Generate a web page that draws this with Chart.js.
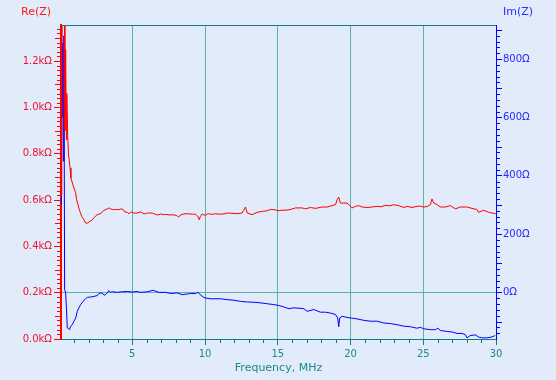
<!DOCTYPE html>
<html><head><meta charset="utf-8">
<script src="https://cdn.jsdelivr.net/npm/chart.js@4/dist/chart.umd.min.js"></script>
<style>html,body{margin:0;padding:0;background:#e1ebfa;}canvas{display:block;}</style>
</head><body>
<canvas id="c" width="556" height="380"></canvas>
<script>
// ---- data ----
const reFreq = [0.10,0.14,0.18,0.33,0.37,0.42,0.47,0.50,0.56,0.62,0.65,0.72,0.78,0.88,0.99,1.11,1.17,1.27,1.38,1.52,1.68,1.79,1.90,2.02,2.20,2.36,2.52,2.71,2.83,2.94,3.05,3.17,3.28,3.39,3.51,3.63,3.85,4.08,4.20,4.38,4.47,4.66,4.77,4.93,5.11,5.34,5.57,5.80,5.91,6.03,6.26,6.37,6.48,6.72,6.83,6.94,7.17,7.29,7.52,7.86,8.04,8.20,8.32,8.54,8.78,9.12,9.35,9.53,9.60,9.69,9.81,10.03,10.15,10.26,10.50,10.72,10.95,11.29,11.52,11.85,12.21,12.55,12.66,12.78,12.90,13.24,13.58,13.93,14.27,14.50,14.73,15.00,15.30,15.70,16.00,16.22,16.68,16.90,17.25,17.59,18.05,18.39,18.74,18.97,19.08,19.19,19.31,19.53,19.76,20.00,20.11,20.34,20.57,20.80,21.14,21.48,21.83,22.10,22.40,22.70,22.97,23.31,23.66,23.89,24.23,24.58,24.80,25.03,25.26,25.49,25.60,25.72,25.95,26.18,26.52,26.86,27.20,27.55,28.00,28.35,28.69,28.80,29.15,29.50,29.98];
const reVals = [1450,620,1450,1450,900,1250,860,1060,880,790,782,739,695,674,652,631,602,580,554,530,515,501,500,505,512,523,534,540,541,549,556,559,562,566,562,559,559,559,562,559,549,547,541,549,544,544,549,541,541,544,544,544,541,536,536,540,537,538,536,536,533,527,536,540,541,539,539,527,515,530,540,533,540,541,538,541,539,540,544,543,541,544,556,570,544,537,547,551,554,559,559,554,556,557,562,566,566,562,568,564,570,570,576,580,602,613,587,587,587,573,566,573,576,570,568,570,573,571,577,575,580,576,568,573,568,573,574,570,572,580,605,587,580,570,570,576,562,570,570,564,559,547,556,547,541];
const imFreq = [0.10,0.13,0.17,0.21,0.26,0.30,0.35,0.42,0.49,0.53,0.60,0.69,0.76,0.88,0.99,1.11,1.22,1.33,1.45,1.61,1.79,1.91,2.14,2.36,2.60,2.71,2.82,2.94,3.12,3.28,3.39,3.51,3.63,3.97,4.31,4.66,5.00,5.34,5.57,6.03,6.44,6.83,7.29,7.63,8.09,8.43,9.00,9.35,9.51,9.81,9.99,10.38,11.07,11.52,11.98,12.44,12.90,13.35,13.81,14.27,14.73,15.07,15.41,15.76,16.10,16.79,17.02,17.48,17.93,18.28,18.62,18.97,19.12,19.19,19.26,19.42,19.76,20.04,20.45,20.91,21.37,21.83,22.28,22.74,23.20,23.66,24.11,24.57,24.80,25.03,25.49,25.83,26.00,26.18,26.64,26.98,27.32,27.66,27.89,28.00,28.23,28.58,28.80,29.03,29.38,29.72,29.95];
const imVals = [300,910,600,855,450,880,9,-2,-71,-122,-124,-128,-116,-111,-99,-88,-65,-53,-42,-31,-22,-17,-16,-14,-11,-4,-2,-4,-10,-2,6,0,2,0,2,3,1,3,0,2,7,0,0,-4,-2,-8,-4,-4,0,-14,-19,-22,-22,-25,-27,-31,-33,-34,-36,-39,-42,-45,-50,-56,-53,-56,-65,-59,-68,-68,-71,-76,-88,-118,-88,-82,-86,-88,-91,-96,-99,-99,-105,-107,-111,-116,-118,-123,-120,-125,-128,-128,-123,-131,-134,-136,-141,-141,-145,-156,-148,-146,-153,-156,-156,-153,-148];
const xTickValues = [5,10,15,20,25,30];
const reTickValues = [0,200,400,600,800,1000,1200];
const imTickValues = [0,200,400,600,800];

// ---- styles ----
const BG = '#e1ebfa';
const TEAL = '#0f7f80';
const GRID = '#5eb0aa';
const RED = '#ff0000';
const BLUE = '#0000ff';
const FONT = 'DejaVu Sans';

const toPts = (xs, ys) => xs.map((x, i) => ({x, y: ys[i]}));

const decor = {
  id: 'decor',
  beforeDraw(chart) {
    const c = chart.ctx;
    c.save(); c.fillStyle = BG; c.fillRect(0, 0, chart.width, chart.height); c.restore();
  },
  afterDraw(chart) {
    const c = chart.ctx, a = chart.chartArea;
    const sx = chart.scales.x, sr = chart.scales.re, si = chart.scales.im;
    c.save();
    c.lineWidth = 1;
    c.strokeStyle = TEAL;
    c.beginPath(); c.moveTo(a.left, Math.round(a.top) + 0.5); c.lineTo(a.right, Math.round(a.top) + 0.5); c.stroke();
    c.beginPath();
    for (let v = 1; v < 30; v++) {
      if (v % 5 === 0) continue;
      const px = Math.round(sx.getPixelForValue(v)) + 0.5;
      c.moveTo(px, a.bottom); c.lineTo(px, a.bottom + 4);
    }
    c.stroke();
    c.strokeStyle = RED;
    c.beginPath();
    for (let v = 20; v <= sr.max; v += 20) {
      if (v % 200 === 0) continue;
      const py = Math.round(sr.getPixelForValue(v)) + 0.5;
      const len = v % 100 === 0 ? 6 : 4;
      c.moveTo(a.left - len, py); c.lineTo(a.left, py);
    }
    c.stroke();
    c.strokeStyle = BLUE;
    c.beginPath();
    for (let v = -140; v <= si.max; v += 20) {
      if (v % 200 === 0) continue;
      const py = Math.round(si.getPixelForValue(v)) + 0.5;
      const len = v % 100 === 0 ? 6 : 4;
      c.moveTo(a.right, py); c.lineTo(a.right + len, py);
    }
    c.stroke();
    c.font = '11px "' + FONT + '"';
    c.textBaseline = 'middle';
    c.textAlign = 'left';
    c.fillStyle = '#ff1a1a';
    c.fillText('Re(Z)', 21, 12);
    c.fillStyle = '#2a2aff';
    c.fillText('Im(Z)', 503, 12);
    c.restore();
  }
};

new Chart(document.getElementById('c'), {
  type: 'scatter',
  data: {
    datasets: [
      {label: 'Re(Z)', data: toPts(reFreq, reVals), yAxisID: 're', showLine: true, borderColor: RED, borderWidth: 1, pointRadius: 0, tension: 0},
      {label: 'Im(Z)', data: toPts(imFreq, imVals), yAxisID: 'im', showLine: true, borderColor: BLUE, borderWidth: 1, pointRadius: 0, tension: 0}
    ]
  },
  options: {
    responsive: false,
    animation: false,
    events: [],
    layout: {padding: {top: 25, left: 0, right: 0, bottom: 0}},
    plugins: {legend: {display: false}, tooltip: {enabled: false}},
    scales: {
      x: {
        type: 'linear', position: 'bottom', min: 0.1, max: 30,
        afterBuildTicks: s => { s.ticks = xTickValues.map(v => ({value: v})); },
        afterFit: s => { s.height = 41; },
        ticks: {color: '#1a8a8a', font: {family: FONT, size: 10}, padding: 3, maxRotation: 0, autoSkip: false, callback: v => String(v)},
        grid: {color: GRID, tickColor: TEAL, tickLength: 6, lineWidth: 1},
        border: {color: TEAL, width: 1},
        title: {display: true, text: 'Frequency, MHz', color: '#1a8a8a', font: {family: FONT, size: 11}, padding: {top: 0, bottom: 5}}
      },
      re: {
        type: 'linear', position: 'left', min: 0, max: 1356,
        afterBuildTicks: s => { s.ticks = reTickValues.map(v => ({value: v})); },
        afterFit: s => { s.width = 61; },
        ticks: {color: '#f01030', font: {family: FONT, size: 10}, padding: 2, callback: v => (v / 1000).toFixed(1) + 'kΩ'},
        grid: {drawOnChartArea: false, color: RED, tickColor: RED, tickLength: 7},
        border: {color: RED, width: 2}
      },
      im: {
        type: 'linear', position: 'right', min: -160, max: 917,
        afterBuildTicks: s => { s.ticks = imTickValues.map(v => ({value: v})); },
        afterFit: s => { s.width = 60; },
        ticks: {color: '#2a2aff', font: {family: FONT, size: 10}, padding: 1, callback: v => v + 'Ω'},
        grid: {drawOnChartArea: true, color: ctx => (ctx.tick && ctx.tick.value === 0) ? GRID : 'rgba(0,0,0,0)', tickColor: BLUE, tickLength: 6},
        border: {color: BLUE, width: 1}
      }
    }
  },
  plugins: [decor]
});
</script>
</body></html>
